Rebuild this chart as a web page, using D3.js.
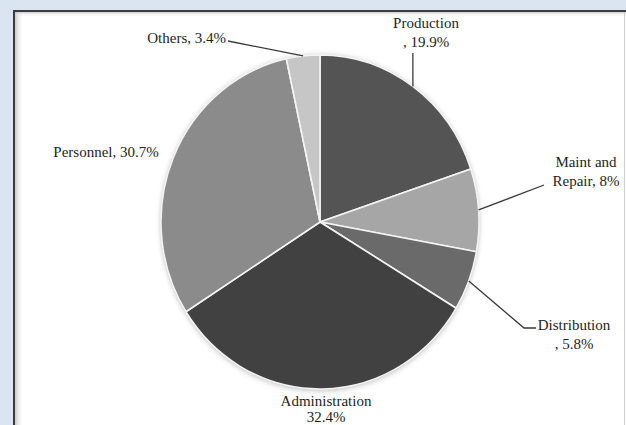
<!DOCTYPE html>
<html>
<head>
<meta charset="utf-8">
<script src="https://cdn.jsdelivr.net/npm/d3@7"></script>
<style>
  html, body { margin: 0; padding: 0; background: #dbe5f1; }
  svg { display: block; }
</style>
</head>
<body>
<script>
// ---- data ----
const categories = ["Production", "Maint and Repair", "Distribution", "Administration", "Personnel", "Others"];
const values = [19.9, 8, 5.8, 32.4, 30.7, 3.4];
const labelLines = [
  ["Production", ", 19.9%"],
  ["Maint and", "Repair, 8%"],
  ["Distribution", ", 5.8%"],
  ["Administration", "32.4%"],
  ["Personnel, 30.7%"],
  ["Others, 3.4%"]
];
const colors = ["#545454", "#a6a6a6", "#6a6a6a", "#414141", "#8b8b8b", "#c6c6c6"];

// ---- layout (styles / label placement) ----
const W = 626, H = 425;
const cx = 320, cy = 222, rx = 159, ry = 167;
const labelLayout = [
  { x: 426, y: 28, anchor: "middle", gap: 19, to: [[null, 53]] },
  { x: 586, y: 167, anchor: "middle", gap: 19, to: [[544, 185]] },
  { x: 574, y: 330, anchor: "middle", gap: 19, to: [[524, 328], [536, 328]] },
  { x: 326, y: 406, anchor: "middle", gap: 16, to: [] },
  { x: 106, y: 157, anchor: "middle", gap: 19, to: [] },
  { x: 226, y: 43, anchor: "end", gap: 19, to: [[228, 41]] }
];

const svg = d3.select("body").append("svg").attr("width", W).attr("height", H);

const defs = svg.append("defs");
const f = defs.append("filter").attr("id", "shadow").attr("x", "-20%").attr("y", "-20%").attr("width", "140%").attr("height", "140%");
f.append("feDropShadow").attr("dx", 0).attr("dy", 1).attr("stdDeviation", 3).attr("flood-color", "#000").attr("flood-opacity", 0.3);

const inner = defs.append("linearGradient").attr("id", "innerL").attr("x1", 0).attr("x2", 1).attr("y1", 0).attr("y2", 0);
inner.append("stop").attr("offset", 0).attr("stop-color", "#bbb").attr("stop-opacity", 0.8);
inner.append("stop").attr("offset", 1).attr("stop-color", "#fff").attr("stop-opacity", 0);
const innerT = defs.append("linearGradient").attr("id", "innerT").attr("x1", 0).attr("x2", 0).attr("y1", 0).attr("y2", 1);
innerT.append("stop").attr("offset", 0).attr("stop-color", "#bbb").attr("stop-opacity", 0.7);
innerT.append("stop").attr("offset", 1).attr("stop-color", "#fff").attr("stop-opacity", 0);

// panel
svg.append("rect").attr("x", 13).attr("y", 10).attr("width", 620).attr("height", 430).attr("fill", "#fff");
svg.append("rect").attr("x", 15).attr("y", 12).attr("width", 9).attr("height", 420).attr("fill", "url(#innerL)");
svg.append("rect").attr("x", 15).attr("y", 12).attr("width", 620).attr("height", 5).attr("fill", "url(#innerT)");
svg.append("line").attr("x1", 14).attr("x2", 14).attr("y1", 10).attr("y2", H).attr("stroke", "#3c3c3c").attr("stroke-width", 2);
svg.append("line").attr("x1", 13).attr("x2", W).attr("y1", 11).attr("y2", 11).attr("stroke", "#3c3c3c").attr("stroke-width", 2);
svg.append("line").attr("x1", 624.5).attr("x2", 624.5).attr("y1", 12).attr("y2", H).attr("stroke", "#d0d0d0").attr("stroke-width", 1);

// pie
const pie = d3.pie().sort(null).value(d => d);
const arcs = pie(values);
const arc = d3.arc().innerRadius(0).outerRadius(ry);

const g = svg.append("g").attr("transform", `translate(${cx},${cy}) scale(${rx / ry},1)`);
const shadowG = g.append("g").attr("filter", "url(#shadow)");
shadowG.selectAll("path").data(arcs).join("path")
  .attr("d", arc)
  .attr("fill", (d, i) => colors[i]);
g.selectAll("path.slice").data(arcs).join("path")
  .attr("class", "slice")
  .attr("d", arc)
  .attr("fill", (d, i) => colors[i])
  .attr("stroke", "#f4f4f4")
  .attr("stroke-width", 1.6)
  .attr("stroke-linejoin", "round")
  .attr("vector-effect", "non-scaling-stroke");

// leader lines
function edgePoint(d) {
  const a = (d.startAngle + d.endAngle) / 2;
  return [cx + rx * Math.sin(a), cy - ry * Math.cos(a)];
}
const lg = svg.append("g");
arcs.forEach((d, i) => {
  const L = labelLayout[i];
  if (!L.to.length) return;
  const p0 = edgePoint(d);
  const pts = [p0].concat(L.to.map(p => [p[0] === null ? p0[0] : p[0], p[1]]));
  lg.append("path")
    .attr("d", d3.line()(pts))
    .attr("fill", "none")
    .attr("stroke", "#3a3a3a")
    .attr("stroke-width", 1.3);
});

// labels
const tg = svg.append("g")
  .attr("font-family", "'Liberation Serif', 'Times New Roman', serif")
  .attr("font-size", 15)
  .attr("fill", "#1e1e1e");
labelLines.forEach((lines, i) => {
  const L = labelLayout[i];
  const t = tg.append("text").attr("text-anchor", L.anchor);
  lines.forEach((s, j) => {
    t.append("tspan").attr("x", L.x).attr("y", L.y + j * L.gap).text(s);
  });
});
</script>
</body>
</html>
